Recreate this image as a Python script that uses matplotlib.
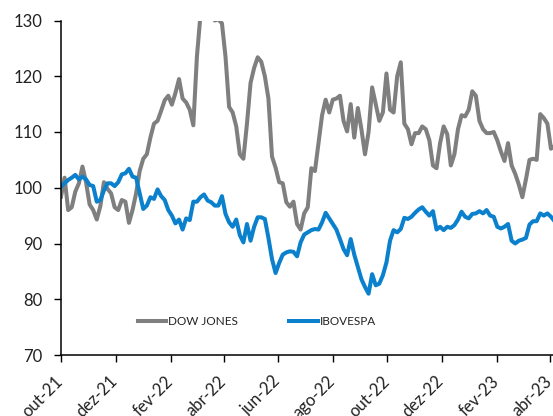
import matplotlib
matplotlib.use("Agg")
import matplotlib.pyplot as plt
import matplotlib.transforms as mtransforms
import pandas as pd

plt.rcParams['font.family'] = ['Lato', 'DejaVu Sans']

start_date = "2021-10-01"
step_days = 4

dow_jones = [
    98.4, 101.8, 96.0, 96.5, 99.3, 100.8, 103.8, 101.0, 97.0, 96.0,
    94.3, 96.7, 101.0, 99.8, 99.0, 96.5, 96.0, 97.8, 97.5, 93.7,
    96.0, 99.0, 103.0, 105.2, 106.0, 109.0, 111.5, 112.0, 113.8, 115.7,
    116.5, 114.9, 117.0, 119.5, 116.0, 115.3, 114.0, 111.2, 123.5, 131.0,
    134.0, 135.0, 133.0, 130.0, 130.2, 129.5, 123.5, 114.5, 113.5, 111.0,
    106.0, 105.2, 111.5, 118.8, 121.5, 123.4, 122.6, 120.0, 116.0, 105.6,
    103.6, 101.0, 100.8, 97.4, 96.6, 97.5, 93.5, 92.5, 95.4, 96.5,
    103.5, 103.0, 108.0, 113.0, 115.8, 113.5, 115.8, 116.0, 116.5, 112.0,
    110.1, 115.0, 109.0, 114.3, 110.5, 106.0, 110.0, 118.0, 115.0, 112.0,
    113.5, 120.5, 114.0, 113.5, 120.0, 122.5, 111.5, 110.5, 107.8, 109.8,
    109.8, 111.0, 110.5, 108.5, 104.0, 103.5, 108.0, 111.0, 109.6, 104.0,
    106.0, 110.5, 113.0, 112.8, 114.0, 117.3, 116.5, 112.0, 110.5, 109.8,
    109.8, 110.0, 108.5, 106.5, 104.8, 108.0, 104.0, 102.5, 100.6, 98.3,
    101.5, 105.0, 105.2, 105.0, 113.2, 112.5, 111.5, 107.0, 107.5,
]

ibovespa = [
    100.2, 100.8, 101.4, 101.8, 102.3, 101.5, 102.0, 101.5, 100.5, 100.3,
    97.5, 97.8, 99.5, 100.8, 100.8, 100.3, 101.0, 102.4, 102.6, 103.4,
    102.0, 101.8, 99.0, 96.2, 96.8, 98.3, 98.0, 99.7, 98.5, 97.8,
    96.0, 95.0, 93.6, 94.3, 92.5, 94.5, 94.2, 97.5, 97.5, 98.3,
    98.8, 97.7, 97.4, 96.8, 96.8, 98.5, 95.3, 93.8, 93.0, 94.3,
    91.5, 90.2, 93.5, 90.5, 93.0, 94.7, 94.7, 94.4, 91.0, 87.2,
    84.7, 86.5, 88.0, 88.4, 88.6, 88.5, 87.7, 90.2, 91.6, 92.0,
    92.4, 92.6, 92.5, 93.8, 95.5, 94.5, 93.5, 92.5, 90.8, 89.0,
    87.9, 90.8, 88.0, 85.8, 83.6, 82.2, 81.0, 84.5, 82.5, 82.8,
    84.3, 86.6, 90.5, 92.4, 92.0, 92.6, 94.6, 94.4, 94.8, 95.5,
    96.1, 96.5, 95.7, 95.0, 95.8, 92.5, 93.0, 92.4, 93.0, 92.8,
    93.3, 94.3, 95.7, 94.8, 94.5, 95.3, 95.4, 95.8, 95.4, 96.0,
    95.0, 94.8, 93.0, 92.7, 93.0, 93.5, 90.5, 90.0, 90.5, 90.7,
    91.0, 93.4, 94.0, 94.0, 95.4, 95.0, 95.4, 94.8, 94.0,
]

series_names = ["DOW JONES", "IBOVESPA"]
month_names = {1: "jan", 2: "fev", 3: "mar", 4: "abr", 5: "mai", 6: "jun",
               7: "jul", 8: "ago", 9: "set", 10: "out", 11: "nov", 12: "dez"}
y_ticks = [70, 80, 90, 100, 110, 120, 130]

dates = pd.date_range(start_date, periods=len(dow_jones), freq=f"{step_days}D")
tick_dates = pd.date_range("2021-10-01", "2023-04-01", freq="2MS")
tick_labels = [f"{month_names[d.month]}-{d.year % 100:02d}" for d in tick_dates]

fig = plt.figure(figsize=(5.53, 4.16), dpi=100)
ax = fig.add_axes([61 / 553, 61 / 416, 515 / 553, 334.5 / 416])

ax.plot(dates, dow_jones, color="#7f7f7f", lw=2.9, label=series_names[0],
        solid_joinstyle="round")
ax.plot(dates, ibovespa, color="#0b80cc", lw=2.9, label=series_names[1],
        solid_joinstyle="round")

ax.set_ylim(70, 130)
ax.set_yticks(y_ticks)
ax.set_xlim(pd.Timestamp("2021-10-01"), pd.Timestamp("2023-04-30"))
ax.set_xticks(tick_dates, tick_labels)

for s in ["top", "right"]:
    ax.spines[s].set_visible(False)
for s in ["left", "bottom"]:
    ax.spines[s].set_linewidth(1.1)
    ax.spines[s].set_color("#000000")

ax.tick_params(axis="both", direction="out", length=5, width=1, colors="#000000",
               labelcolor="#222222", labelsize=12)
ax.tick_params(axis="x", pad=8)
ax.tick_params(axis="y", pad=8.5)

offset = mtransforms.ScaledTranslation(5 / 100, 0, fig.dpi_scale_trans)
for tick in ax.xaxis.get_major_ticks():
    lab = tick.label1
    lab.set_rotation(45)
    lab.set_ha("right")
    lab.set_va("top")
    lab.set_rotation_mode("default")
    lab.set_transform(lab.get_transform() + offset)

leg = ax.legend(loc="center", bbox_to_anchor=(0.38, 0.099), ncol=2, frameon=False,
                fontsize=8.5, handlelength=2.4, handletextpad=0.15,
                columnspacing=4.4, borderaxespad=0)
for t in leg.get_texts():
    t.set_color("#222222")

fig.savefig("out.png", dpi=100)
